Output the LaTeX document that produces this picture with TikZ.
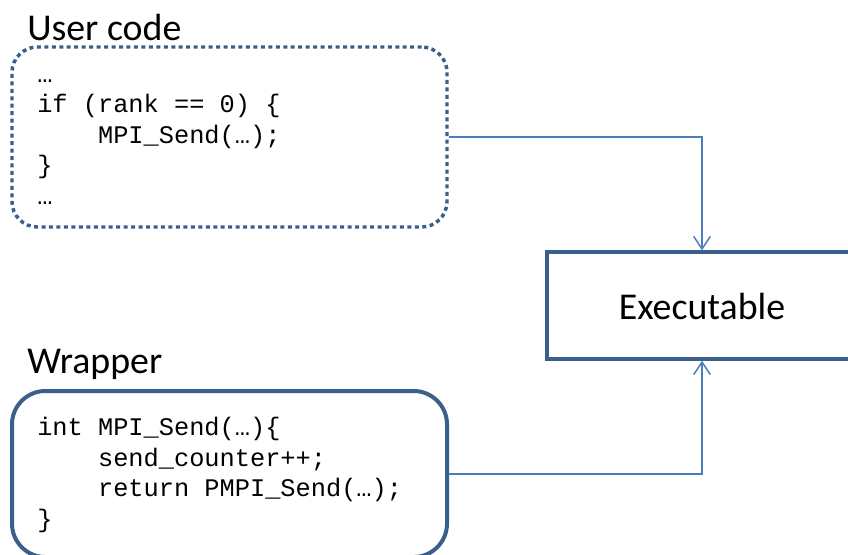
\documentclass[tikz,border=0pt]{standalone}
\usepackage{fontspec}
\setmainfont{Carlito}
\newfontfamily\codefont{Liberation Mono}
\usetikzlibrary{arrows.meta}
\definecolor{boxline}{HTML}{3A5F8B}
\definecolor{flowline}{HTML}{4A7EBB}
\tikzset{
  label text/.style={font=\fontsize{28.4}{34}\selectfont, inner sep=0pt, anchor=base west},
  code text/.style={font=\codefont\fontsize{19}{22.8}\selectfont, inner sep=0pt, align=left, anchor=base west},
  userbox/.style={draw=boxline, line width=2.6pt, dash pattern=on 3pt off 2.6pt, rounded corners=19pt,
    minimum width=326.25pt, minimum height=135pt, inner sep=0pt},
  wrapbox/.style={draw=boxline, line width=3pt, rounded corners=25pt,
    minimum width=326.25pt, minimum height=124.5pt, inner sep=0pt},
  exebox/.style={draw=boxline, line width=2.5pt, minimum width=232.5pt, minimum height=80.25pt,
    inner sep=0pt, font=\fontsize{28.4}{34}\selectfont},
  flow/.style={draw=flowline, line width=1.1pt, -{Straight Barb[length=9.5pt,width=12.5pt]}}
}
\newcommand{\ind}{\hphantom{xxxx}}
\begin{document}
\begin{tikzpicture}[x=0.75pt,y=-0.75pt]
  \useasboundingbox (0,0) rectangle (848,554);
  \clip (0,0) rectangle (848,554);

  % section titles
  \node[label text] (usertitle) at (27,40) {User code};
  \node[label text] (wraptitle) at (27,373) {Wrapper};

  % boxes
  \node[userbox] (user) at (229.5,137) {};
  \node[wrapbox] (wrap) at (229.5,474) {};
  \node[exebox] (exe) at (702,305.5) {};
  \node[font=\fontsize{28.4}{34}\selectfont, inner sep=0pt, anchor=base] (exetext) at (702,319) {Executable};

  % code listings (anchored at the baseline of their last line)
  \node[code text] (usercode) at (37,204) {…\\
if (rank == 0) \{\\
\ind MPI\_Send(…);\\
\}\\
…};
  \node[code text] (wrapcode) at (37,527) {int MPI\_Send(…)\{\\
\ind send\_counter++;\\
\ind return PMPI\_Send(…);\\
\}};

  % connectors
  \draw[flow] (user.east) -| (exe.north);
  \draw[flow] (wrap.east) -| (exe.south);
\end{tikzpicture}
\end{document}
